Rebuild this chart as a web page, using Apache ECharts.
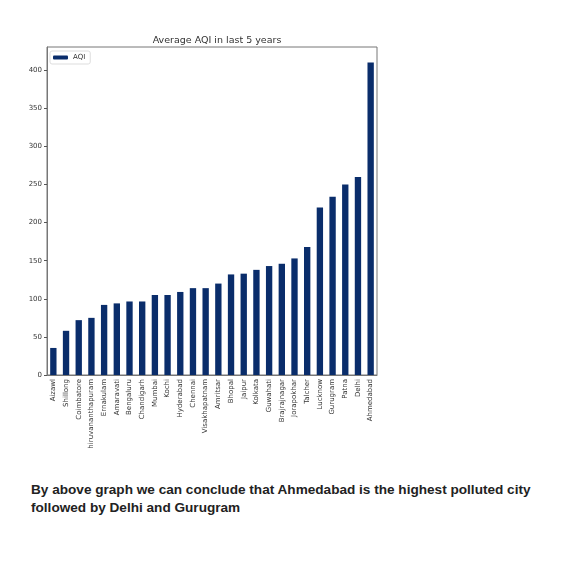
<!DOCTYPE html>
<html>
<head>
<meta charset="utf-8">
<script src="https://cdn.jsdelivr.net/npm/echarts@6/dist/echarts.min.js"></script>
<style>
  html, body { margin: 0; padding: 0; background: #fff; }
  #chart { position: absolute; left: 0; top: 0; width: 563px; height: 448px; }
  #note { position: absolute; left: 31px; top: 481px; font-family: "Liberation Sans", Arial, Helvetica, sans-serif;
          font-weight: bold; font-size: 13.6px; line-height: 18px; color: #222; white-space: nowrap; }
</style>
</head>
<body>
<div id="chart"></div>
<div id="note">By above graph we can conclude that Ahmedabad is the highest polluted city<br>followed by Delhi and Gurugram</div>
<script>
const cities = ["Aizawl","Shillong","Coimbatore","Thiruvananthapuram","Ernakulam","Amaravati","Bengaluru","Chandigarh","Mumbai","Kochi","Hyderabad","Chennai","Visakhapatnam","Amritsar","Bhopal","Jaipur","Kolkata","Guwahati","Brajrajnagar","Jorapokhar","Talcher","Lucknow","Gurugram","Patna","Delhi","Ahmedabad"];
const aqi = [35.5, 58, 72, 75, 92, 94, 96.5, 96.5, 105, 105, 109, 114, 114, 120, 132, 133, 138, 143, 146, 153, 168, 220, 234, 250, 260, 410];
const yTicks = [0, 50, 100, 150, 200, 250, 300, 350, 400];
const yMax = 430.5;

const chart = echarts.init(document.getElementById('chart'));
chart.setOption({
  animation: false,
  title: {
    text: 'Average AQI in last 5 years',
    left: 212, top: 31, textAlign: 'center',
    textStyle: { fontFamily: 'DejaVu Sans', fontSize: 9.5, fontWeight: 'normal', color: '#333' }
  },
  legend: {
    data: ['AQI'],
    left: 50, top: 51,
    padding: [3, 5, 3, 3],
    itemWidth: 15, itemHeight: 4, itemGap: 5,
    borderColor: '#ddd', borderWidth: 1, borderRadius: 2,
    textStyle: { fontFamily: 'DejaVu Sans', fontSize: 7, color: '#333' }
  },
  grid: { left: 47, right: 186, top: 47, bottom: 73, show: true, borderColor: '#777', borderWidth: 1,
          containLabel: false, outerBoundsMode: 'none' },
  xAxis: {
    type: 'category', data: cities,
    axisLine: { lineStyle: { color: '#777' } },
    axisTick: { alignWithLabel: true, length: 3, lineStyle: { color: '#555' } },
    axisLabel: { rotate: 90, interval: 0, margin: 4, fontFamily: 'DejaVu Sans', fontSize: 7, color: '#333' }
  },
  yAxis: {
    type: 'value', min: 0, max: yMax,
    splitLine: { show: false },
    axisLine: { show: true, lineStyle: { color: '#777' } },
    axisTick: { show: true, length: 3, lineStyle: { color: '#555' }, customValues: yTicks },
    axisLabel: { margin: 5, fontFamily: 'DejaVu Sans', fontSize: 7, color: '#333', customValues: yTicks }
  },
  series: [{
    name: 'AQI', type: 'bar', data: aqi, barWidth: '50%',
    itemStyle: { color: '#0a2d6b' }
  }]
});
</script>
</body>
</html>
